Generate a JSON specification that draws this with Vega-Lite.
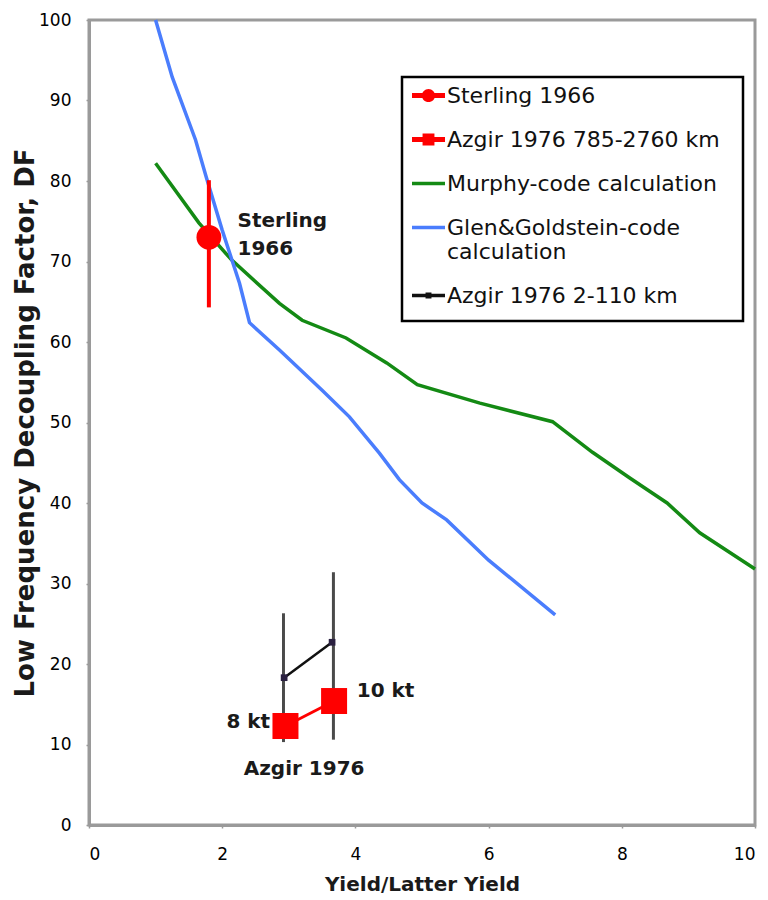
{
  "$schema": "https://vega.github.io/schema/vega-lite/v6.json",
  "width": 666,
  "height": 805,
  "autosize": {"type": "none"},
  "padding": {"left": 89, "top": 20, "right": 13, "bottom": 75},
  "background": "white",
  "view": {"stroke": "#9a9a9a", "strokeWidth": 3},
  "config": {
    "font": "DejaVu Sans",
    "axis": {
      "grid": false,
      "domainColor": "#9a9a9a",
      "domainWidth": 3,
      "tickColor": "#9a9a9a",
      "tickSize": 3,
      "tickWidth": 1.5,
      "labelFont": "DejaVu Sans",
      "labelFontSize": 17,
      "labelColor": "#000000",
      "titleFont": "DejaVu Sans",
      "titleFontWeight": "bold",
      "titleColor": "#1a1a1a"
    }
  },
  "datasets": {
    "curves": [
      {"series": "Murphy-code calculation", "x": 1.0, "y": 82.2},
      {"series": "Murphy-code calculation", "x": 1.65, "y": 74.8},
      {"series": "Murphy-code calculation", "x": 2.14, "y": 70.2},
      {"series": "Murphy-code calculation", "x": 2.86, "y": 64.8},
      {"series": "Murphy-code calculation", "x": 3.2, "y": 62.7},
      {"series": "Murphy-code calculation", "x": 3.86, "y": 60.5},
      {"series": "Murphy-code calculation", "x": 4.47, "y": 57.4},
      {"series": "Murphy-code calculation", "x": 4.93, "y": 54.7},
      {"series": "Murphy-code calculation", "x": 5.87, "y": 52.4},
      {"series": "Murphy-code calculation", "x": 6.96, "y": 50.1},
      {"series": "Murphy-code calculation", "x": 7.56, "y": 46.3},
      {"series": "Murphy-code calculation", "x": 8.12, "y": 43.1},
      {"series": "Murphy-code calculation", "x": 8.68, "y": 40.0},
      {"series": "Murphy-code calculation", "x": 9.17, "y": 36.3},
      {"series": "Murphy-code calculation", "x": 10.0, "y": 31.8},
      {"series": "Glen&Goldstein-code calculation", "x": 1.0, "y": 100},
      {"series": "Glen&Goldstein-code calculation", "x": 1.25, "y": 92.9},
      {"series": "Glen&Goldstein-code calculation", "x": 1.6, "y": 85.1},
      {"series": "Glen&Goldstein-code calculation", "x": 1.76, "y": 80.5},
      {"series": "Glen&Goldstein-code calculation", "x": 2.0, "y": 73.9},
      {"series": "Glen&Goldstein-code calculation", "x": 2.26, "y": 67.3},
      {"series": "Glen&Goldstein-code calculation", "x": 2.41, "y": 62.4},
      {"series": "Glen&Goldstein-code calculation", "x": 2.86, "y": 59.0},
      {"series": "Glen&Goldstein-code calculation", "x": 3.5, "y": 54.0},
      {"series": "Glen&Goldstein-code calculation", "x": 3.91, "y": 50.7},
      {"series": "Glen&Goldstein-code calculation", "x": 4.36, "y": 46.2},
      {"series": "Glen&Goldstein-code calculation", "x": 4.66, "y": 42.9},
      {"series": "Glen&Goldstein-code calculation", "x": 5.0, "y": 40.0},
      {"series": "Glen&Goldstein-code calculation", "x": 5.37, "y": 37.9},
      {"series": "Glen&Goldstein-code calculation", "x": 6.0, "y": 32.9},
      {"series": "Glen&Goldstein-code calculation", "x": 7.0, "y": 26.1}
    ],
    "obs": [
      {"series": "Azgir 1976 2-110 km", "x": 2.93, "y": 18.3},
      {"series": "Azgir 1976 2-110 km", "x": 3.65, "y": 22.7},
      {"series": "Azgir 1976 785-2760 km", "x": 2.95, "y": 12.3},
      {"series": "Azgir 1976 785-2760 km", "x": 3.68, "y": 15.4},
      {"series": "Sterling 1966", "x": 1.8, "y": 73.0}
    ],
    "errs": [
      {"series": "Azgir", "x": 2.92, "lo": 10.3, "hi": 26.3},
      {"series": "Azgir", "x": 3.67, "lo": 10.6, "hi": 31.4},
      {"series": "Sterling 1966", "x": 1.8, "lo": 64.3, "hi": 80.1}
    ],
    "notes": [
      {"label": "Sterling", "x": 2.23, "y": 74.3, "pos": "left"},
      {"label": "1966", "x": 2.23, "y": 70.8, "pos": "left"},
      {"label": "10 kt", "x": 4.02, "y": 15.9, "pos": "left"},
      {"label": "8 kt", "x": 2.72, "y": 12.05, "pos": "right"},
      {"label": "Azgir 1976", "x": 3.23, "y": 6.2, "pos": "center"}
    ]
  },
  "encoding": {
    "x": {"field": "x", "type": "quantitative", "scale": {"domain": [0, 10], "nice": false},
          "axis": {"values": [0, 2, 4, 6, 8, 10], "title": "Yield/Latter Yield", "titleFontSize": 20, "labelPadding": 18, "titlePadding": 12}},
    "y": {"field": "y", "type": "quantitative", "scale": {"domain": [0, 100], "nice": false},
          "axis": {"values": [0, 10, 20, 30, 40, 50, 60, 70, 80, 90, 100], "title": "Low Frequency Decoupling Factor,  DF", "titleFontSize": 26, "labelPadding": 15, "titlePadding": 0}}
  },
  "layer": [
    {
      "data": {"name": "curves"},
      "transform": [{"filter": "datum.series == 'Murphy-code calculation'"}],
      "mark": {"type": "line", "strokeWidth": 3.5},
      "encoding": {
        "color": {
          "field": "series", "type": "nominal",
          "scale": {
            "domain": ["Sterling 1966", "Azgir 1976 785-2760 km", "Murphy-code calculation", "Glen&Goldstein-code calculation", "Azgir 1976 2-110 km"],
            "range": ["#ff0000", "#ff0000", "#148a14", "#4a7dfd", "#111111"]
          },
          "legend": {
            "title": "MMMMMMMMMMMMMMMMMMMMMMMMMMMMMMMMMMMMMMM",
            "titleOrient": "bottom",
            "titleFont": "DejaVu Sans",
            "titleFontWeight": "normal",
            "titleFontSize": 10,
            "titlePadding": 2,
            "titleLimit": 1000,
            "titleOpacity": 0,
            "orient": "none",
            "legendX": 313,
            "legendY": 57,
            "padding": 2,
            "strokeColor": "#000",
            "fillColor": "white",
            "labelFont": "DejaVu Sans",
            "labelFontSize": 22,
            "labelColor": "#111",
            "labelOffset": 2,
            "labelLimit": 400,
            "rowPadding": 16,
            "symbolOffset": 8,
            "symbolSize": 1089,
            "symbolStrokeWidth": 0,
            "labelExpr": "datum.label == 'Glen&Goldstein-code calculation' ? ['Glen&Goldstein-code', 'calculation'] : datum.label",
            "encode": {
              "legend": {"update": {"strokeWidth": {"value": 2.5}}},
              "symbols": {
                "update": {
                  "shape": {"signal": "datum.value == 'Sterling 1966' ? 'M-1,-0.15H1V0.15H-1Z M0.4,0A0.4,0.4,0,1,1,-0.4,0A0.4,0.4,0,1,1,0.4,0Z' : datum.value == 'Azgir 1976 785-2760 km' ? 'M-1,-0.15H1V0.15H-1Z M-0.36,-0.36H0.36V0.36H-0.36Z' : datum.value == 'Azgir 1976 2-110 km' ? 'M-1,-0.1H1V0.1H-1Z M-0.18,-0.18H0.18V0.18H-0.18Z' : 'M-1,-0.1H1V0.1H-1Z'"},
                  "fill": {"scale": "color", "field": "value"},
                  "stroke": {"value": "transparent"},
                  "opacity": {"value": 1}
                }
              }
            }
          }
        }
      }
    },
    {
      "data": {"name": "curves"},
      "transform": [{"filter": "datum.series == 'Glen&Goldstein-code calculation'"}],
      "mark": {"type": "line", "strokeWidth": 3.5, "color": "#4a7dfd"}
    },
    {
      "data": {"name": "errs"},
      "transform": [{"filter": "datum.series == 'Azgir'"}],
      "mark": {"type": "rule", "strokeWidth": 3, "color": "#4a4a4a"},
      "encoding": {"y": {"field": "lo", "type": "quantitative"}, "y2": {"field": "hi"}}
    },
    {
      "data": {"name": "obs"},
      "transform": [{"filter": "datum.series == 'Azgir 1976 2-110 km'"}],
      "mark": {"type": "line", "strokeWidth": 2.5, "color": "#111111", "point": {"shape": "square", "size": 45, "filled": true, "color": "#2a2040"}}
    },
    {
      "data": {"name": "obs"},
      "transform": [{"filter": "datum.series == 'Azgir 1976 785-2760 km'"}],
      "mark": {"type": "line", "strokeWidth": 3, "color": "#ff0000", "point": {"shape": "square", "size": 676, "filled": true, "color": "#ff0000", "opacity": 1}}
    },
    {
      "data": {"name": "errs"},
      "transform": [{"filter": "datum.series == 'Sterling 1966'"}],
      "mark": {"type": "rule", "strokeWidth": 4, "color": "#ff0000"},
      "encoding": {"y": {"field": "lo", "type": "quantitative"}, "y2": {"field": "hi"}}
    },
    {
      "data": {"name": "obs"},
      "transform": [{"filter": "datum.series == 'Sterling 1966'"}],
      "mark": {"type": "point", "shape": "circle", "size": 615, "filled": true, "color": "#ff0000", "opacity": 1}
    },
    {
      "data": {"name": "notes"},
      "transform": [{"filter": "datum.pos == 'left'"}],
      "mark": {"type": "text", "font": "DejaVu Sans", "fontWeight": "bold", "fontSize": 20, "color": "#1a1a1a", "baseline": "alphabetic", "align": "left"},
      "encoding": {"text": {"field": "label"}}
    },
    {
      "data": {"name": "notes"},
      "transform": [{"filter": "datum.pos == 'right'"}],
      "mark": {"type": "text", "font": "DejaVu Sans", "fontWeight": "bold", "fontSize": 20, "color": "#1a1a1a", "baseline": "alphabetic", "align": "right"},
      "encoding": {"text": {"field": "label"}}
    },
    {
      "data": {"name": "notes"},
      "transform": [{"filter": "datum.pos == 'center'"}],
      "mark": {"type": "text", "font": "DejaVu Sans", "fontWeight": "bold", "fontSize": 20, "color": "#1a1a1a", "baseline": "alphabetic", "align": "center"},
      "encoding": {"text": {"field": "label"}}
    }
  ]
}
